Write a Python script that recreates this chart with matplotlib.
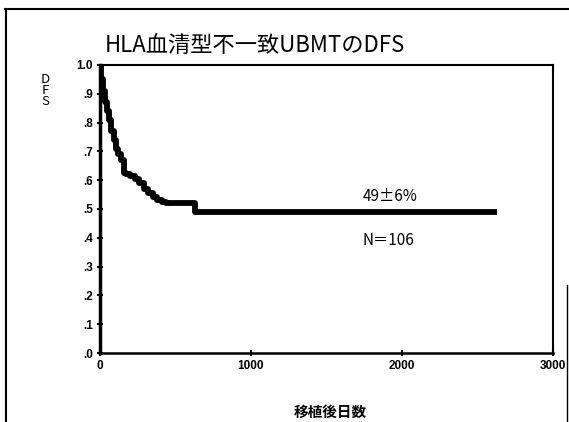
import matplotlib
matplotlib.use('Agg')
import matplotlib.pyplot as plt
from matplotlib.lines import Line2D

plt.rcParams['font.family'] = ['Noto Sans CJK JP', 'DejaVu Sans']

# Kaplan-Meier style DFS curve (days after transplant, survival fraction)
days = [0, 10, 20, 30, 45, 60, 75, 90, 105, 120, 140, 160, 175, 200,
        230, 260, 290, 320, 350, 380, 410, 440, 600, 630, 2630]
dfs = [1.0, 0.95, 0.91, 0.87, 0.84, 0.81, 0.77, 0.74, 0.71, 0.69, 0.67,
       0.625, 0.62, 0.615, 0.605, 0.59, 0.57, 0.555, 0.54, 0.53, 0.525,
       0.52, 0.52, 0.49, 0.49]

xticks = [0, 1000, 2000, 3000]
xtick_labels = ['0', '1000', '2000', '3000']
yticks = [0.0, 0.1, 0.2, 0.3, 0.4, 0.5, 0.6, 0.7, 0.8, 0.9, 1.0]
ytick_labels = ['.0', '.1', '.2', '.3', '.4', '.5', '.6', '.7', '.8', '.9', '1.0']

fig = plt.figure(figsize=(5.69, 4.22), dpi=100)
ax = fig.add_axes([0.1757, 0.1635, 0.7961, 0.6825])

ax.plot(days, dfs, drawstyle='steps-post', color='black', lw=4.2,
        solid_capstyle='butt')

ax.set_xlim(0, 3000)
ax.set_ylim(0, 1.0)
ax.set_xticks(xticks)
ax.set_xticklabels(xtick_labels, fontsize=8.5, fontweight='bold', family='Liberation Sans')
ax.set_yticks(yticks)
ax.set_yticklabels(ytick_labels, fontsize=8.5, fontweight='bold', family='Liberation Sans')
ax.tick_params(direction='inout', length=4, width=1.5, pad=3)

ax.spines['left'].set_linewidth(2.5)
ax.spines['bottom'].set_linewidth(1.8)
ax.spines['top'].set_linewidth(1.5)
ax.spines['right'].set_linewidth(1.5)

ax.text(1925, 0.545, '49±6%', fontsize=11, ha='center', va='center')
ax.text(1910, 0.39, 'N＝106', fontsize=11, ha='center', va='center')

fig.text(0.448, 0.893, 'HLA血清型不一致UBMTのDFS', fontsize=16,
         ha='center', va='center')
fig.text(0.079, 0.785, 'D\nF\nS', fontsize=9.5, ha='center', va='center',
         linespacing=0.8)
fig.text(0.58, 0.023, '移植後日数', fontsize=10.5, fontweight='bold',
         ha='center', va='center')

# scanned slide border
fig.add_artist(Line2D([0.011, 0.011], [0, 0.979], color='black', lw=1.5,
                      transform=fig.transFigure))
fig.add_artist(Line2D([0.009, 1.0], [0.979, 0.979], color='black', lw=1.5,
                      transform=fig.transFigure))
fig.add_artist(Line2D([0.997, 0.997], [0, 0.325], color='black', lw=1.0,
                      transform=fig.transFigure))

fig.savefig('out.png', dpi=100)
